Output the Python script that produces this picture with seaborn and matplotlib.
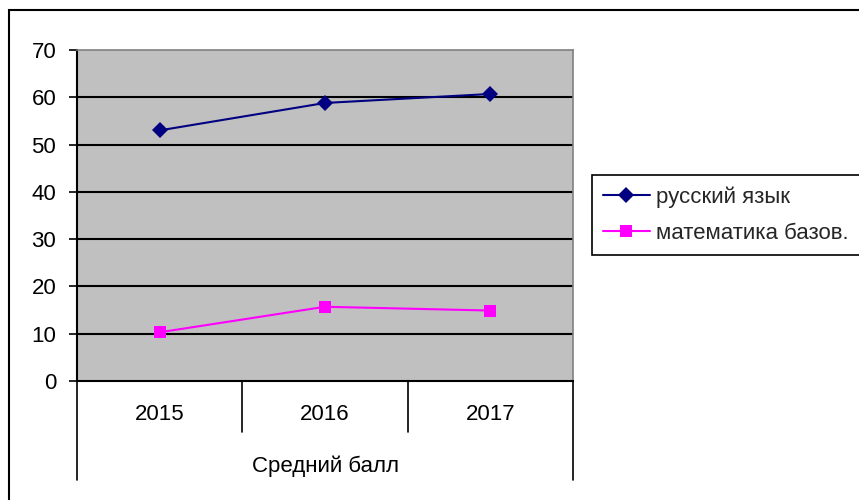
import matplotlib
matplotlib.use("Agg")
import matplotlib.pyplot as plt
import matplotlib.transforms as mtransforms
from matplotlib.patches import Rectangle
import seaborn as sns
import pandas as pd

years = ["2015", "2016", "2017"]
group_label = "Средний балл"
series_names = ["русский язык", "математика базов."]
russian = [53.0, 58.8, 60.7]
math_base = [10.3, 15.7, 14.9]
y_ticks = [0, 10, 20, 30, 40, 50, 60, 70]

df = pd.DataFrame({
    "year": years * 2,
    "value": russian + math_base,
    "series": [series_names[0]] * 3 + [series_names[1]] * 3,
})

sns.set_theme(style="white")
plt.rcParams["font.family"] = ["Liberation Sans", "DejaVu Sans"]
FS = 16

fig = plt.figure(figsize=(8.59, 5.0), dpi=100)
ax = fig.add_axes([77 / 859, 119 / 500, 496 / 859, 331 / 500])
ax.set_facecolor("#C0C0C0")

palette = {series_names[0]: "#000080", series_names[1]: "#FF00FF"}
markers = {series_names[0]: "D", series_names[1]: "s"}
sns.lineplot(data=df, x="year", y="value", hue="series", style="series",
             palette=palette, markers=markers, dashes=False, markersize=8,
             markeredgewidth=0, linewidth=1.5, sort=False, ax=ax)

ax.set_xlim(-0.5, len(years) - 0.5)
ax.set_ylim(0, 70)
ax.set_yticks(y_ticks)
ax.set_yticklabels([str(t) for t in y_ticks], fontsize=FS, color="black")
ax.tick_params(axis="y", direction="out", length=6, width=1.2, color="black", left=True, pad=9)
ax.set_xticks([])
ax.set_xlabel("")
ax.set_ylabel("")

for t in y_ticks[1:-1]:
    ax.axhline(t, color="black", linewidth=1.5, zorder=1)

for side in ["top", "right"]:
    ax.spines[side].set_color("#808080")
    ax.spines[side].set_linewidth(1.2)
for side in ["left", "bottom"]:
    ax.spines[side].set_color("black")
    ax.spines[side].set_linewidth(1.5)

trans = mtransforms.blended_transform_factory(ax.transData, ax.transAxes)
for i in range(1, len(years)):
    ax.plot([i - 0.5, i - 0.5], [0, -0.155], color="black", lw=1.2,
            transform=trans, clip_on=False)
for xb in [-0.5, len(years) - 0.5]:
    ax.plot([xb, xb], [0, -0.30], color="black", lw=1.2,
            transform=trans, clip_on=False)
for i, y in enumerate(years):
    ax.text(i, -0.10, y, transform=trans, ha="center", va="center",
            fontsize=FS, color="black")
ax.text((len(years) - 1) / 2, -0.257, group_label, transform=trans,
        ha="center", va="center", fontsize=FS, color="black")

handles, labels = ax.get_legend_handles_labels()
if ax.legend_:
    ax.legend_.remove()
leg = fig.legend(handles, labels, loc="upper left",
                 bbox_to_anchor=(592 / 859, 325 / 500), borderaxespad=0,
                 fontsize=FS, frameon=True, fancybox=False, edgecolor="black",
                 framealpha=1, handlelength=2.1, handletextpad=0.3,
                 labelspacing=0.7, borderpad=0.5)
leg.get_frame().set_linewidth(1.2)

fig.patches.append(Rectangle((9 / 859, -0.1), 1.0, 0.98 + 0.1, transform=fig.transFigure,
                             fill=False, edgecolor="black", linewidth=1.5))

fig.savefig("out.png", dpi=100, facecolor="white")
